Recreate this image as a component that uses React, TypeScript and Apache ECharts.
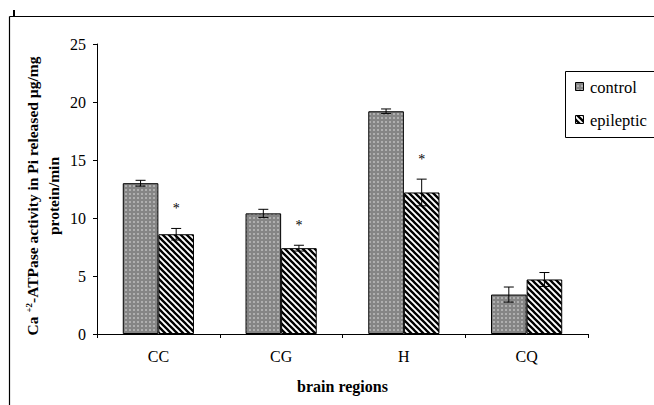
import React, { useEffect, useRef } from "react";
import * as echarts from "echarts";

const categories = ["CC", "CG", "H", "CQ"];
const controlValues = [13.0, 10.4, 19.2, 3.4];
const controlErrors = [0.25, 0.35, 0.2, 0.65];
const epilepticValues = [8.6, 7.4, 12.2, 4.7];
const epilepticErrors = [0.5, 0.25, 1.15, 0.6];
const significance = ["*", "*", "*", ""];
const seriesNames = ["control", "epileptic"];
const yTicks = { min: 0, max: 25, interval: 5 };

const FONT = "Liberation Serif";
const BAR_FRAC = 0.29;

function svgUrl(svg: string) {
  return "data:image/svg+xml;charset=utf-8," + encodeURIComponent(svg);
}

const dotsSvg =
  '<svg xmlns="http://www.w3.org/2000/svg" width="4" height="4">' +
  '<rect width="4" height="4" fill="#858585"/>' +
  '<rect x="1.3" y="1.3" width="1.4" height="1.4" fill="#dcdcdc"/>' +
  "</svg>";

const stripesSvg =
  '<svg xmlns="http://www.w3.org/2000/svg" width="6" height="6">' +
  '<rect width="6" height="6" fill="#ffffff"/>' +
  '<path d="M-1,-1 L7,7 M-1,5 L1,7 M5,-1 L7,1" stroke="#000000" stroke-width="2.3"/>' +
  "</svg>";

const dotsPattern: any = { image: svgUrl(dotsSvg), repeat: "repeat", imageWidth: 4, imageHeight: 4 };
const stripesPattern: any = { image: svgUrl(stripesSvg), repeat: "repeat", imageWidth: 6, imageHeight: 6 };
const patterns = [dotsPattern, stripesPattern];

function errorSeries(values: number[], errors: number[], side: number, withStars: boolean) {
  return {
    type: "custom",
    silent: true,
    z: 5,
    itemStyle: { color: "#000" },
    data: values.map((v, i) => [i, v, errors[i]]),
    renderItem: (params: any, api: any) => {
      const idx = api.value(0);
      const val = api.value(1);
      const err = api.value(2);
      const bw = api.size([1, 0])[0];
      const c = api.coord([idx, val]);
      const x = c[0] + side * bw * BAR_FRAC * 0.5;
      const yt = api.coord([idx, val + err])[1];
      const yb = api.coord([idx, val - err])[1];
      const st = { stroke: "#000", lineWidth: 1 };
      const children: any[] = [
        { type: "line", shape: { x1: x, y1: yt, x2: x, y2: yb }, style: st },
        { type: "line", shape: { x1: x - 5, y1: yt, x2: x + 5, y2: yt }, style: st },
        { type: "line", shape: { x1: x - 5, y1: yb, x2: x + 5, y2: yb }, style: st },
      ];
      if (withStars && significance[params.dataIndex]) {
        children.push({
          type: "text",
          x: x,
          y: yt - 20,
          style: {
            text: significance[params.dataIndex],
            fontSize: 14,
            fontFamily: FONT,
            fill: "#000",
            align: "center",
            verticalAlign: "middle",
          },
        });
      }
      return { type: "group", children };
    },
  };
}

export default function App() {
  const ref = useRef<HTMLDivElement>(null);
  useEffect(() => {
    if (!ref.current) return;
    const chart = echarts.init(ref.current, null, { renderer: "svg" });
    const legendItems: any[] = [];
    seriesNames.forEach((name, i) => {
      const cy = 87 + i * 33;
      legendItems.push({
        type: "rect",
        shape: { x: 575.5, y: cy - 4.5, width: 8, height: 8 },
        style: { fill: patterns[i], stroke: "#000", lineWidth: 1 },
      });
      legendItems.push({
        type: "text",
        x: 590,
        y: cy,
        style: {
          text: name,
          fontFamily: FONT,
          fontSize: 16.5,
          fill: "#000",
          align: "left",
          verticalAlign: "middle",
        },
      });
    });
    chart.setOption({
      animation: false,
      backgroundColor: "#fff",
      textStyle: { fontFamily: FONT },
      grid: { left: 97, right: 66, top: 44, bottom: 71 },
      xAxis: {
        type: "category",
        data: categories,
        axisLine: { lineStyle: { color: "#000", width: 1 } },
        axisTick: { show: true, length: 4, lineStyle: { color: "#000" } },
        axisLabel: { color: "#000", fontSize: 16, fontFamily: FONT, margin: 14 },
        name: "brain regions",
        nameLocation: "middle",
        nameGap: 44,
        nameTextStyle: { color: "#000", fontSize: 16, fontWeight: "bold", fontFamily: FONT },
      },
      yAxis: {
        type: "value",
        min: yTicks.min,
        max: yTicks.max,
        interval: yTicks.interval,
        axisLine: { show: true, lineStyle: { color: "#000", width: 1 } },
        axisTick: { show: true, length: 4, lineStyle: { color: "#000" } },
        splitLine: { show: false },
        axisLabel: { color: "#000", fontSize: 16, fontFamily: FONT, margin: 11 },
      },
      series: [
        {
          name: seriesNames[0],
          type: "bar",
          data: controlValues,
          barWidth: `${BAR_FRAC * 100}%`,
          barGap: "0%",
          itemStyle: { color: dotsPattern, borderColor: "#000", borderWidth: 1 },
        },
        {
          name: seriesNames[1],
          type: "bar",
          data: epilepticValues,
          barWidth: `${BAR_FRAC * 100}%`,
          barGap: "0%",
          itemStyle: { color: stripesPattern, borderColor: "#000", borderWidth: 1 },
        },
        errorSeries(controlValues, controlErrors, -1, false),
        errorSeries(epilepticValues, epilepticErrors, 1, true),
      ],
      graphic: [
        { type: "line", shape: { x1: 9.5, y1: 16.5, x2: 660, y2: 16.5 }, style: { stroke: "#000", lineWidth: 1.2 } },
        { type: "line", shape: { x1: 9.5, y1: 16.5, x2: 9.5, y2: 410 }, style: { stroke: "#000", lineWidth: 1.2 } },
        { type: "rect", shape: { x: 13, y: 10, width: 2, height: 6 }, style: { fill: "#000" } },
        {
          type: "rect",
          shape: { x: 565.5, y: 71.5, width: 100, height: 66 },
          style: { fill: "#fff", stroke: "#000", lineWidth: 1 },
        },
        ...legendItems,
        {
          type: "text",
          x: 32,
          y: 196,
          rotation: Math.PI / 2,
          style: {
            text: "{n|Ca }{s|+2}{n|-ATPase activity in Pi released µg/mg}",
            align: "center",
            verticalAlign: "middle",
            fill: "#000",
            rich: {
              n: { fontFamily: FONT, fontSize: 15.5, fontWeight: "bold", fill: "#000" },
              s: { fontFamily: FONT, fontSize: 9, fontWeight: "bold", fill: "#000", verticalAlign: "top" },
            },
          },
        },
        {
          type: "text",
          x: 53,
          y: 196,
          rotation: Math.PI / 2,
          style: {
            text: "protein/min",
            align: "center",
            verticalAlign: "middle",
            fill: "#000",
            fontFamily: FONT,
            fontSize: 15.5,
            fontWeight: "bold",
          },
        },
      ],
    });
    return () => chart.dispose();
  }, []);
  return (
    <div
      ref={ref}
      style={{ position: "fixed", left: 0, top: 0, width: 654, height: 405 }}
    />
  );
}
